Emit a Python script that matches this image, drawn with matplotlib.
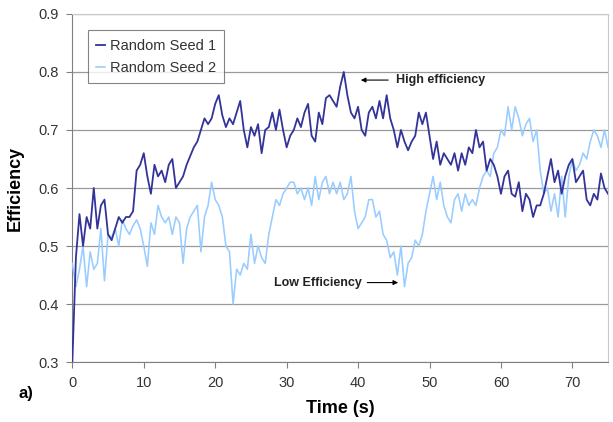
import numpy as np
import matplotlib
matplotlib.use("Agg")
import matplotlib.pyplot as plt

plt.rcParams['font.family'] = ['Liberation Sans', 'DejaVu Sans']

# time grid (s), one reading every 0.5 s
time_s = np.arange(0, 75.01, 0.5)

seed1 = [
    0.30, 0.48, 0.555, 0.50, 0.55, 0.53, 0.60, 0.53, 0.57, 0.58,
    0.52, 0.51, 0.53, 0.55, 0.54, 0.55, 0.55, 0.56, 0.63, 0.64,
    0.66, 0.62, 0.59, 0.64, 0.62, 0.63, 0.61, 0.64, 0.65, 0.60,
    0.61, 0.62, 0.64, 0.655, 0.67, 0.68, 0.70, 0.72, 0.71, 0.72,
    0.745, 0.76, 0.725, 0.705, 0.72, 0.71, 0.73, 0.75, 0.70, 0.67,
    0.705, 0.69, 0.71, 0.66, 0.70, 0.705, 0.73, 0.70, 0.735, 0.70,
    0.67, 0.69, 0.70, 0.72, 0.705, 0.73, 0.745, 0.69, 0.68, 0.73,
    0.71, 0.755, 0.76, 0.75, 0.74, 0.775, 0.80, 0.76, 0.73, 0.72,
    0.74, 0.70, 0.69, 0.73, 0.74, 0.72, 0.75, 0.72, 0.76, 0.72,
    0.70, 0.67, 0.70, 0.68, 0.665, 0.68, 0.69, 0.73, 0.71, 0.73,
    0.69, 0.65, 0.68, 0.64, 0.66, 0.65, 0.64, 0.66, 0.63, 0.66,
    0.64, 0.67, 0.66, 0.70, 0.67, 0.68, 0.63, 0.65, 0.64, 0.62,
    0.59, 0.62, 0.63, 0.59, 0.585, 0.61, 0.56, 0.59, 0.58, 0.55,
    0.57, 0.57, 0.59, 0.62, 0.65, 0.61, 0.63, 0.59, 0.62, 0.64,
    0.65, 0.61, 0.62, 0.63, 0.58, 0.57, 0.59, 0.58, 0.625, 0.60,
    0.59,
]

seed2 = [
    0.47, 0.43, 0.46, 0.50, 0.43, 0.49, 0.46, 0.47, 0.53, 0.44,
    0.52, 0.515, 0.53, 0.50, 0.545, 0.53, 0.52, 0.535, 0.545, 0.53,
    0.50, 0.465, 0.54, 0.52, 0.57, 0.55, 0.54, 0.55, 0.52, 0.55,
    0.54, 0.47, 0.53, 0.55, 0.56, 0.57, 0.49, 0.55, 0.57, 0.61,
    0.58, 0.57, 0.55, 0.50, 0.49, 0.40, 0.46, 0.45, 0.47, 0.46,
    0.52, 0.47, 0.50, 0.48, 0.47, 0.52, 0.55, 0.58, 0.57, 0.59,
    0.60, 0.61, 0.61, 0.59, 0.60, 0.58, 0.60, 0.57, 0.62, 0.58,
    0.61, 0.62, 0.59, 0.61, 0.59, 0.61, 0.58, 0.59, 0.62, 0.56,
    0.53, 0.54, 0.55, 0.58, 0.58, 0.55, 0.56, 0.52, 0.51, 0.48,
    0.49, 0.45, 0.50, 0.43, 0.47, 0.48, 0.51, 0.50, 0.52, 0.56,
    0.59, 0.62, 0.58, 0.61, 0.57, 0.55, 0.54, 0.58, 0.59, 0.56,
    0.59, 0.57, 0.58, 0.57, 0.60, 0.62, 0.63, 0.62, 0.66, 0.67,
    0.70, 0.69, 0.74, 0.70, 0.74, 0.72, 0.69, 0.71, 0.72, 0.68,
    0.70, 0.63, 0.59, 0.60, 0.56, 0.59, 0.55, 0.62, 0.55, 0.62,
    0.65, 0.63, 0.64, 0.66, 0.65, 0.68, 0.70, 0.69, 0.67, 0.70,
    0.67,
]

yticks = [0.3, 0.4, 0.5, 0.6, 0.7, 0.8, 0.9]
xticks = [0, 10, 20, 30, 40, 50, 60, 70]

fig = plt.figure(figsize=(6.13, 4.22), dpi=100)
ax = fig.add_axes([0.118, 0.142, 0.874, 0.825])

ax.plot(time_s, seed2, color="#99CCFF", lw=1.15, label="Random Seed 2", zorder=3)
ax.plot(time_s, seed1, color="#333399", lw=1.3, label="Random Seed 1", zorder=4)

ax.set_xlim(0, 75)
ax.set_ylim(0.3, 0.9)
ax.set_xticks(xticks)
ax.set_yticks(yticks)
ax.set_yticklabels([f"{v:.1f}" for v in yticks])
ax.tick_params(axis="both", direction="out", length=4, width=0.8,
               color="#808080", labelsize=10.5, labelcolor="#333333", pad=6)
ax.yaxis.grid(True, color="#9a9a9a", lw=0.9)
ax.set_axisbelow(True)
for side in ["top", "right"]:
    ax.spines[side].set_color("#c8c8c8")
for side in ["left", "bottom"]:
    ax.spines[side].set_color("#808080")

ax.set_xlabel("Time (s)", fontsize=13, fontweight="bold", labelpad=7)
ax.set_ylabel("Efficiency", fontsize=13, fontweight="bold", labelpad=10)
fig.text(0.03, 0.058, "a)", fontsize=12, fontweight="bold")

handles, labels = ax.get_legend_handles_labels()
leg = ax.legend(handles[::-1], labels[::-1], loc="upper left",
                bbox_to_anchor=(0.015, 0.975), fontsize=10.5, handlelength=0.6,
                handletextpad=0.3, frameon=True, fancybox=False,
                borderpad=0.6, labelspacing=0.55, labelcolor="#333333")
leg.get_frame().set_edgecolor("#666666")
leg.get_frame().set_linewidth(0.8)

ax.annotate("", xy=(40.0, 0.786), xytext=(44.6, 0.786),
            arrowprops=dict(arrowstyle="-|>", color="black", lw=0.8,
                            mutation_scale=7))
ax.text(45.3, 0.786, "High efficiency", fontsize=9, fontweight="bold",
        va="center", ha="left", color="#222222")
ax.text(28.2, 0.437, "Low Efficiency", fontsize=9, fontweight="bold",
        va="center", ha="left", color="#222222")
ax.annotate("", xy=(46.0, 0.437), xytext=(40.9, 0.437),
            arrowprops=dict(arrowstyle="-|>", color="black", lw=0.8,
                            mutation_scale=7))

fig.savefig("out.png", dpi=100)
